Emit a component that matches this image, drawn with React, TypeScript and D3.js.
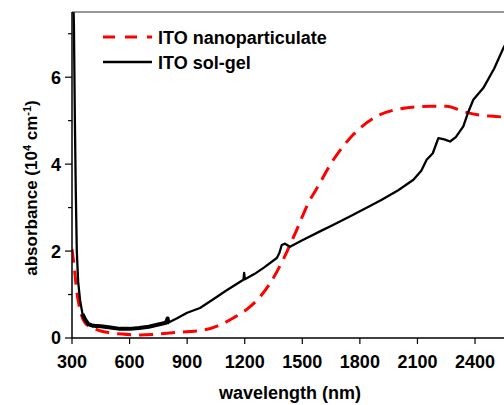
import React from "react";
import * as d3 from "d3";

const solGelWavelength = [300, 310, 315, 320, 325, 332, 342, 355, 368, 385, 410, 450, 500, 550, 600, 650, 700, 750, 790, 798, 802, 806, 850, 900, 967, 1050, 1100, 1193, 1197, 1201, 1250, 1300, 1367, 1380, 1393, 1410, 1436, 1500, 1600, 1660, 1750, 1850, 1914, 2000, 2079, 2120, 2148, 2180, 2209, 2240, 2270, 2300, 2339, 2365, 2391, 2443, 2500, 2548, 2600];
const solGelAbs = [9.0, 7.2, 5.0, 3.3, 2.0, 1.3, 0.87, 0.55, 0.43, 0.32, 0.28, 0.27, 0.24, 0.21, 0.21, 0.23, 0.26, 0.31, 0.35, 0.45, 0.36, 0.36, 0.46, 0.58, 0.69, 0.93, 1.08, 1.34, 1.5, 1.35, 1.47, 1.62, 1.84, 1.95, 2.14, 2.17, 2.1, 2.25, 2.47, 2.6, 2.8, 3.03, 3.18, 3.4, 3.64, 3.85, 4.1, 4.25, 4.6, 4.57, 4.52, 4.62, 4.87, 5.2, 5.48, 5.75, 6.2, 6.67, 7.1];

const nanoWavelength = [300, 310, 324, 342, 368, 410, 450, 498, 560, 654, 720, 795, 915, 983, 1060, 1140, 1228, 1280, 1332, 1400, 1471, 1540, 1566, 1662, 1766, 1888, 2009, 2165, 2252, 2339, 2420, 2495, 2600];
const nanoAbs = [2.05, 1.7, 1.1, 0.65, 0.35, 0.23, 0.16, 0.12, 0.09, 0.07, 0.08, 0.11, 0.15, 0.18, 0.28, 0.46, 0.72, 0.95, 1.26, 1.8, 2.49, 3.18, 3.37, 4.1, 4.68, 5.1, 5.27, 5.33, 5.33, 5.21, 5.13, 5.1, 5.07];

const xTicks = [300, 600, 900, 1200, 1500, 1800, 2100, 2400];
const yTicks = [0, 2, 4, 6];
const yMinorTicks = [1, 3, 5, 7];

const legendLabels = ["ITO nanoparticulate", "ITO sol-gel"];

export default function App() {
  const W = 504, H = 405;
  const left = 72, top = 12, bottom = 338, right = 513.4;
  const x = d3.scaleLinear().domain([300, 2600]).range([left, right]);
  const y = d3.scaleLinear().domain([0, 7.5]).range([bottom, top]);

  const solGel = solGelWavelength.map((w, i) => [w, solGelAbs[i]] as [number, number]);
  const solGelNoisy = solGel.filter(d => d[0] >= 355 && d[0] <= 806);
  const nano = nanoWavelength.map((w, i) => [w, nanoAbs[i]] as [number, number]);

  const lineLin = d3.line<[number, number]>().x(d => x(d[0])).y(d => y(d[1]));
  const lineSmooth = d3.line<[number, number]>().x(d => x(d[0])).y(d => y(d[1])).curve(d3.curveMonotoneX);

  const font = "'Liberation Sans', Arial, sans-serif";
  const fs = 18;

  return (
    <svg width={W} height={H} style={{ position: "absolute", left: 0, top: 0, background: "#fff" }} fontFamily={font}>
      <defs>
        <clipPath id="plot">
          <rect x={left} y={top} width={right - left} height={bottom - top} />
        </clipPath>
      </defs>
      <rect x={0} y={0} width={W} height={H} fill="#fff" />
      <g clipPath="url(#plot)">
        <path d={lineSmooth(nano) || ""} fill="none" stroke="#ff0000" strokeWidth={3} strokeDasharray="14 8" />
        <path d={lineLin(solGel) || ""} fill="none" stroke="#000" strokeWidth={2.3} strokeLinejoin="round" />
        <path d={lineLin(solGelNoisy) || ""} fill="none" stroke="#000" strokeWidth={4} strokeLinejoin="round" />
      </g>
      {/* frame */}
      <line x1={left} x2={W} y1={top} y2={top} stroke="#333" strokeWidth={1} />
      <line x1={left} x2={left} y1={top} y2={bottom} stroke="#000" strokeWidth={1.5} />
      <line x1={left} x2={W} y1={bottom} y2={bottom} stroke="#000" strokeWidth={1.5} />
      {/* x ticks */}
      {xTicks.map(t => (
        <g key={"x" + t}>
          <line x1={x(t)} x2={x(t)} y1={bottom} y2={bottom + 6} stroke="#000" strokeWidth={1.2} />
          <text x={x(t)} y={368} textAnchor="middle" fontWeight="bold" fontSize={fs}>{t}</text>
        </g>
      ))}
      {/* y ticks */}
      {yTicks.map(t => (
        <g key={"y" + t}>
          <line x1={left - 7} x2={left} y1={y(t)} y2={y(t)} stroke="#000" strokeWidth={1.2} />
          <text x={61} y={y(t)} dy="0.36em" textAnchor="end" fontWeight="bold" fontSize={fs}>{t}</text>
        </g>
      ))}
      {yMinorTicks.map(t => (
        <line key={"ym" + t} x1={left - 4} x2={left} y1={y(t)} y2={y(t)} stroke="#000" strokeWidth={1.2} />
      ))}
      {/* axis titles */}
      <text x={290} y={399} textAnchor="middle" fontWeight="bold" fontSize={fs}>wavelength (nm)</text>
      <text transform={`translate(37,188) rotate(-90)`} textAnchor="middle" fontWeight="bold" fontSize={17}>
        absorbance (10<tspan dy={-6} fontSize={11}>4</tspan><tspan dy={6}> cm</tspan><tspan dy={-6} fontSize={11}>-1</tspan><tspan dy={6}>)</tspan>
      </text>
      {/* legend */}
      <line x1={103} x2={152} y1={37} y2={37} stroke="#ff0000" strokeWidth={3} strokeDasharray="12 10" />
      <text x={158} y={43.5} fontWeight="bold" fontSize={fs}>{legendLabels[0]}</text>
      <line x1={103} x2={152} y1={62} y2={62} stroke="#000" strokeWidth={2.3} />
      <text x={158} y={68.5} fontWeight="bold" fontSize={fs}>{legendLabels[1]}</text>
    </svg>
  );
}
